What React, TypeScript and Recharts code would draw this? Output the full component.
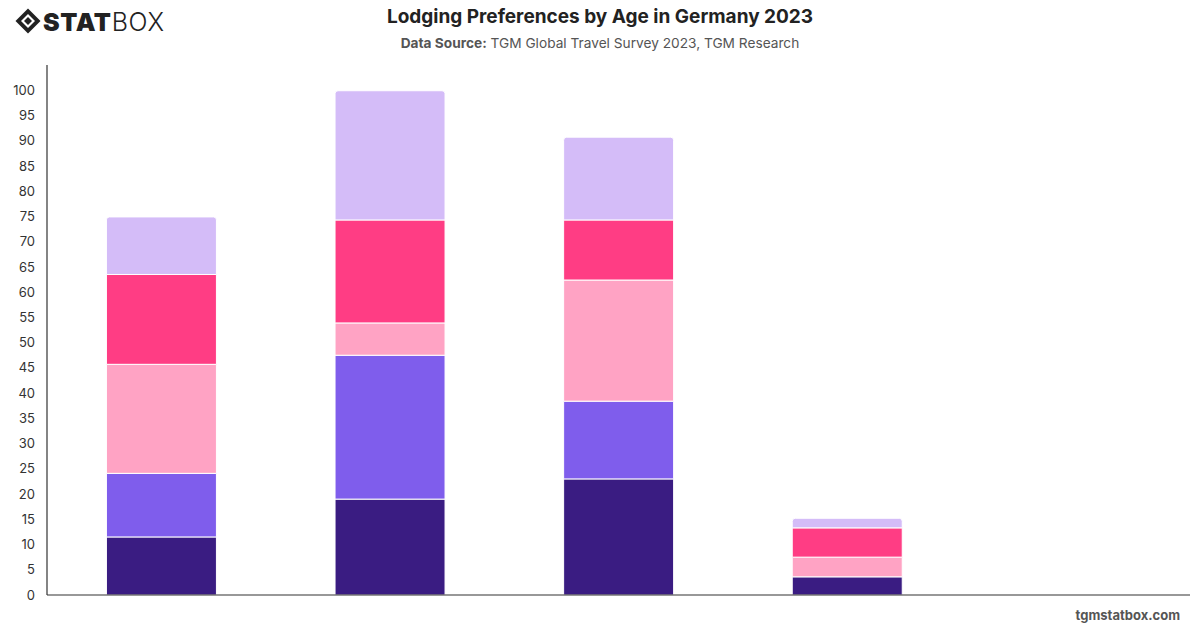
import { Bar, BarChart, XAxis, YAxis } from "recharts";

const ageGroups = ["18-24", "25-34", "35-44", "45-54", "55+"];
const hotel = [11.5, 19.0, 23.0, 3.6, null];
const vacationRental = [12.6, 28.5, 15.4, 0, null];
const friendsFamily = [21.6, 6.4, 24.0, 3.9, null];
const hostel = [17.8, 20.4, 11.9, 5.8, null];
const other = [11.4, 25.6, 16.4, 1.9, null];
const yTicks = [0, 5, 10, 15, 20, 25, 30, 35, 40, 45, 50, 55, 60, 65, 70, 75, 80, 85, 90, 95, 100];

const data = ageGroups.map((age, i) => ({
  age,
  hotel: hotel[i],
  vacationRental: vacationRental[i],
  friendsFamily: friendsFamily[i],
  hostel: hostel[i],
  other: other[i],
}));

const font = "Inter, 'Liberation Sans', Arial, sans-serif";

function Logo() {
  return (
    <svg width={170} height={34} style={{ position: "absolute", left: 13, top: 6 }}>
      <g transform="translate(15,15)">
        <polygon points="0,-12.5 12.5,0 0,12.5 -12.5,0" fill="#222" />
        <polygon points="0,-7 7,0 0,7 -7,0" fill="#fff" />
        <polygon points="0,-4 4,0 0,4 -4,0" fill="#222" />
      </g>
      <text x={30} y={25} fontFamily={font} fontSize={25} fontWeight={900} fill="#222" letterSpacing={0.6}>
        STAT
        <tspan fontWeight={300}>BOX</tspan>
      </text>
    </svg>
  );
}

export default function App() {
  return (
    <div style={{ position: "absolute", left: 0, top: 0, width: 1200, height: 628, background: "#fff", fontFamily: font }}>
      <Logo />
      <div style={{ position: "absolute", top: 5, width: 1200, textAlign: "center", fontSize: 19, fontWeight: 700, color: "#222" }}>
        Lodging Preferences by Age in Germany 2023
      </div>
      <div style={{ position: "absolute", top: 35, width: 1200, textAlign: "center", fontSize: 13.7, color: "#555" }}>
        <b>Data Source:</b> TGM Global Travel Survey 2023, TGM Research
      </div>
      <BarChart
        width={1200}
        height={628}
        data={data}
        margin={{ top: 65, right: 10, bottom: 32, left: 7 }}
        barCategoryGap="26%"
      >
        <XAxis dataKey="age" tick={false} tickLine={false} height={1} axisLine={{ stroke: "#333", strokeWidth: 1.2 }} />
        <YAxis
          width={40}
          domain={[0, 105]}
          ticks={yTicks}
          interval={0}
          tickLine={false}
          axisLine={{ stroke: "#333", strokeWidth: 1.2 }}
          tick={{ fill: "#333", fontSize: 13, fontFamily: font }}
          tickMargin={6}
        />
        <Bar dataKey="hotel" stackId="a" fill="#3a1c82" stroke="#fff" strokeWidth={1} isAnimationActive={false} />
        <Bar dataKey="vacationRental" stackId="a" fill="#7f5dec" stroke="#fff" strokeWidth={1} isAnimationActive={false} />
        <Bar dataKey="friendsFamily" stackId="a" fill="#ffa3c4" stroke="#fff" strokeWidth={1} isAnimationActive={false} />
        <Bar dataKey="hostel" stackId="a" fill="#ff3d84" stroke="#fff" strokeWidth={1} isAnimationActive={false} />
        <Bar dataKey="other" stackId="a" fill="#d4bcf8" stroke="#fff" strokeWidth={1} radius={[3, 3, 0, 0]} isAnimationActive={false} />
      </BarChart>
      <div style={{ position: "absolute", right: 20, top: 607, fontSize: 13, fontWeight: 700, color: "#555" }}>
        tgmstatbox.com
      </div>
    </div>
  );
}
